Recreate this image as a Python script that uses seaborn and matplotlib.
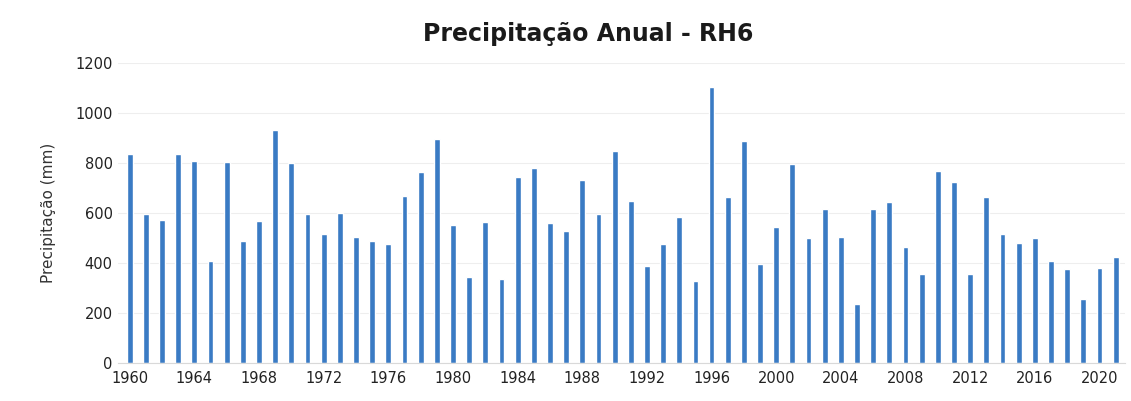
import numpy as np
import pandas as pd
import matplotlib
matplotlib.use("Agg")
import matplotlib.pyplot as plt
import seaborn as sns

# Dados (mm)
anos = list(range(1960, 2022))
precipitacao = [
    836, 596, 572, 836, 808, 407, 802, 488, 566, 931,
    798, 596, 517, 599, 504, 486, 476, 668, 762, 895,
    552, 345, 565, 334, 745, 779, 561, 528, 732, 595,
    846, 648, 387, 476, 585, 329, 1104, 665, 886, 394,
    545, 796, 498, 616, 504, 234, 616, 645, 465, 354,
    768, 725, 355, 665, 517, 478, 498, 409, 375, 254,
    381, 422,
]
rotulos_x = [str(a) for a in range(1960, 2022, 4)]

df = pd.DataFrame({"Ano": [str(a) for a in anos], "Precipitacao": precipitacao})

sns.set_style("white")
plt.rcParams['font.family'] = ['DejaVu Sans']

fig = plt.figure(figsize=(11.31, 4.01), dpi=100)
ax = fig.add_axes([0.104, 0.095, 0.891, 0.748])

sns.barplot(data=df, x="Ano", y="Precipitacao", color="#3a7bc4",
            width=0.36, saturation=1, ax=ax)

ax.set_ylim(0, 1200)
ax.set_yticks(range(0, 1201, 200))
ax.set_xlim(-0.75, 61.6)
ax.set_xticks(range(0, 62, 4))
ax.set_xticklabels(rotulos_x)
ax.tick_params(axis="both", labelsize=10.5, length=0, colors="#222222")
ax.tick_params(axis="x", pad=6)
ax.yaxis.grid(True, color="#eeeeee", linewidth=0.8)
ax.set_axisbelow(True)
for s in ["top", "right", "left"]:
    ax.spines[s].set_visible(False)
ax.spines["bottom"].set_color("#d9d9d9")

ax.set_xlabel("")
ax.set_ylabel("Precipitação (mm)", fontsize=11, color="#333333", labelpad=14)
fig.suptitle("Precipitação Anual - RH6", fontsize=17, fontweight="bold",
             x=0.52, y=0.945, color="#1a1a1a")

fig.savefig("out.png", dpi=100)
